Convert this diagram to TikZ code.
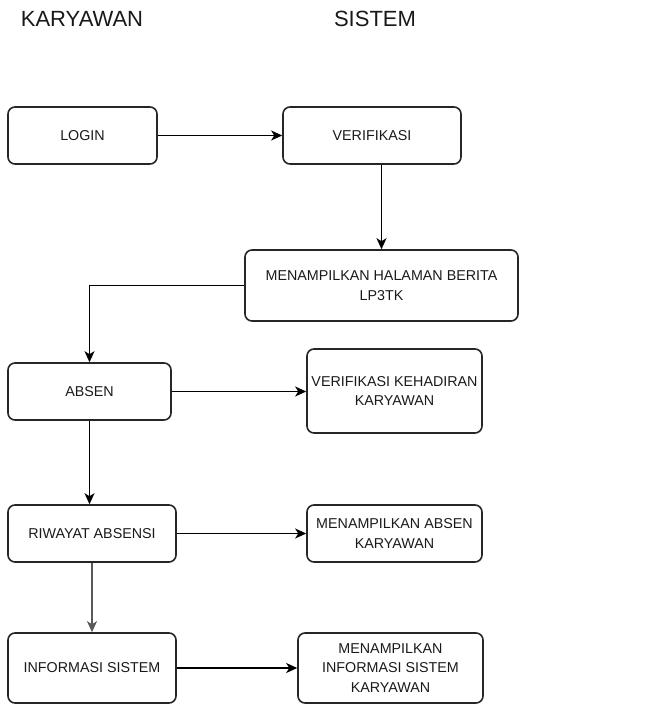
\documentclass[tikz,border=0pt]{standalone}
\usepackage{fontspec}
\setmainfont{Liberation Sans}
\usetikzlibrary{arrows.meta}
\begin{document}
\begin{tikzpicture}[x=1pt,y=-1pt,
  box/.style={draw=black!85,line width=1.6pt,rounded corners=7pt,inner sep=0pt,
    align=center,font=\fontsize{14.3}{19.5}\selectfont,text=black!90},
  title/.style={font=\fontsize{22}{26}\selectfont,text=black!90},
  conn/.style={draw=black,line width=1.5pt,-{Stealth[length=11pt,width=10pt,inset=3pt]}}]
\useasboundingbox (0,0) rectangle (659,704);
\node[title] (tk) at (82,19) {KARYAWAN};
\node[title] (ts) at (375,19) {SISTEM};
\node[box,minimum width=149pt,minimum height=57pt] (login) at (82.5,135.5) {LOGIN};
\node[box,minimum width=178pt,minimum height=57pt] (verif) at (372,135.5) {VERIFIKASI};
\node[box,minimum width=273pt,minimum height=71pt] (menamp) at (381.5,285.5) {MENAMPILKAN HALAMAN BERITA\\LP3TK};
\node[box,minimum width=163pt,minimum height=57pt] (absen) at (89.5,391.5) {ABSEN};
\node[box,minimum width=175pt,minimum height=84pt] (vk) at (394.5,391) {VERIFIKASI KEHADIRAN\\KARYAWAN};
\node[box,minimum width=168pt,minimum height=57pt] (riwayat) at (92,533.5) {RIWAYAT ABSENSI};
\node[box,minimum width=175pt,minimum height=57pt] (ma) at (394.5,533.5) {MENAMPILKAN ABSEN\\KARYAWAN};
\node[box,minimum width=168pt,minimum height=70pt] (info) at (92,668) {INFORMASI SISTEM};
\node[box,minimum width=185pt,minimum height=70pt] (mi) at (390.5,668) {MENAMPILKAN\\INFORMASI SISTEM\\KARYAWAN};
\draw[conn] (login.east) -- (verif.west);
\draw[conn] (menamp.north |- verif.south) -- (menamp.north);
\draw[conn] (menamp.west) -| (absen.north);
\draw[conn] (absen.east) -- (absen.east -| vk.west);
\draw[conn] (absen.south) -- (absen.south |- riwayat.north);
\draw[conn] (riwayat.east) -- (ma.west);
\draw[conn,draw=black!65] (riwayat.south) -- (info.north);
\draw[conn] (info.east) -- (mi.west);
\end{tikzpicture}
\end{document}
